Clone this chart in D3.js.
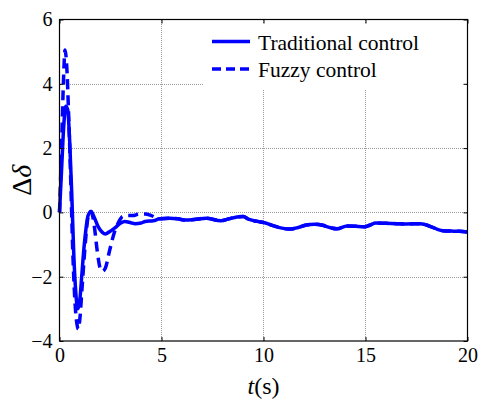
<!DOCTYPE html>
<html>
<head>
<meta charset="utf-8">
<script src="https://cdn.jsdelivr.net/npm/d3@7"></script>
</head>
<body style="margin:0; background:#fff">
<div id="chart"></div>
<script>
var w = 481;
var h = 401;
var margin = { top: 19.5, right: 13.5, bottom: 60, left: 59.5 };
var serif = "'Liberation Serif'";

// data
var tTrad = [0, 0.1, 0.2, 0.3, 0.4, 0.5, 0.6, 0.7, 0.8, 0.9,
    1.0, 1.1, 1.2, 1.3, 1.4, 1.55, 1.7, 1.9, 2.1, 2.25,
    2.45, 2.7, 3.0, 3.2, 3.5, 3.7, 4.0, 4.2, 4.6, 4.9,
    5.4, 5.8, 6.2, 6.6, 7.2, 7.9, 8.3, 8.7, 9.0, 9.3,
    9.7, 10.1, 10.5, 10.9, 11.3, 11.7, 12.1, 12.5, 12.9, 13.3,
    13.6, 14.1, 14.5, 14.9, 15.2, 15.5, 16.0, 16.5, 17.0, 17.7,
    18.2, 18.5, 18.8, 19.2, 19.6, 20];
var vTrad = [0, 1.3, 2.6, 3.3, 3.2, 2.2, 0.6, -1.3, -2.5, -3.0,
    -2.7, -1.9, -1.1, -0.5, -0.1, 0.03, -0.15, -0.45, -0.62, -0.67,
    -0.6, -0.49, -0.33, -0.28, -0.32, -0.35, -0.33, -0.28, -0.26, -0.2,
    -0.18, -0.2, -0.24, -0.22, -0.18, -0.26, -0.2, -0.14, -0.13, -0.22,
    -0.28, -0.33, -0.42, -0.49, -0.52, -0.47, -0.39, -0.37, -0.4, -0.48,
    -0.51, -0.42, -0.43, -0.45, -0.4, -0.33, -0.34, -0.35, -0.36, -0.35,
    -0.44, -0.52, -0.57, -0.58, -0.59, -0.61];

var tFuzzy = [0, 0.1, 0.2, 0.27, 0.35, 0.45, 0.55, 0.65, 0.75, 0.85,
    0.92, 1.0, 1.1, 1.2, 1.3, 1.4, 1.55, 1.7, 1.85, 2.0,
    2.1, 2.25, 2.45, 2.7, 2.9, 3.1, 3.3, 3.6, 3.9, 4.2,
    4.5, 4.7, 4.9, 5.4, 5.8, 6.2, 6.6, 7.2, 7.9, 8.3,
    8.7, 9.0, 9.3, 9.7, 10.1, 10.5, 10.9, 11.3, 11.7, 12.1,
    12.5, 12.9, 13.3, 13.6, 14.1, 14.5, 14.9, 15.2, 15.5, 16.0,
    16.5, 17.0, 17.7, 18.2, 18.5, 18.8, 19.2, 19.6, 20];
var vFuzzy = [0, 2.0, 4.2, 5.05, 4.6, 3.0, 1.0, -1.2, -2.7, -3.45,
    -3.63, -3.3, -2.4, -1.5, -0.7, -0.15, 0.03, -0.4, -1.2, -1.75,
    -1.83, -1.73, -1.2, -0.6, -0.3, -0.12, -0.1, -0.1, -0.05, -0.05,
    -0.1, -0.15, -0.2, -0.18, -0.2, -0.24, -0.22, -0.18, -0.26, -0.2,
    -0.14, -0.13, -0.22, -0.28, -0.33, -0.42, -0.49, -0.52, -0.47, -0.39,
    -0.37, -0.4, -0.48, -0.51, -0.42, -0.43, -0.45, -0.4, -0.33, -0.34,
    -0.35, -0.36, -0.35, -0.44, -0.52, -0.57, -0.58, -0.59, -0.61];

var xTicks = [0, 5, 10, 15, 20];
var yTicks = [-4, -2, 0, 2, 4, 6];
var seriesNames = ["Traditional control", "Fuzzy control"];

var iw = w - margin.left - margin.right;
var ih = h - margin.top - margin.bottom;

var svg = d3.select("#chart")
    .append("svg")
    .attr("width", w)
    .attr("height", h)
    .style("display", "block");

var x = d3.scaleLinear().domain([0, 20]).range([margin.left, margin.left + iw]);
var y = d3.scaleLinear().domain([-4, 6]).range([margin.top + ih, margin.top]);

// grid (matlab dotted)
var grid = svg.append("g").attr("class", "grid")
    .attr("shape-rendering", "crispEdges");
grid.selectAll(".gx")
    .data(xTicks.slice(1, -1))
    .enter().append("line")
    .attr("x1", function(d) { return x(d); })
    .attr("x2", function(d) { return x(d); })
    .attr("y1", y(-4)).attr("y2", y(6))
    .attr("stroke", "#9a9a9a").attr("stroke-width", 1)
    .attr("stroke-dasharray", "1,1");
grid.selectAll(".gy")
    .data(yTicks.slice(1, -1))
    .enter().append("line")
    .attr("y1", function(d) { return Math.round(y(d)) + 0.5; })
    .attr("y2", function(d) { return Math.round(y(d)) + 0.5; })
    .attr("x1", x(0)).attr("x2", x(20))
    .attr("stroke", "#9a9a9a").attr("stroke-width", 1)
    .attr("stroke-dasharray", "1,1");

// lines
var lineGen = d3.line()
    .x(function(d) { return x(d[0]); })
    .y(function(d) { return y(d[1]); })
    .curve(d3.curveMonotoneX);

var fuzzyPts = tFuzzy.map(function(t, i) { return [t, vFuzzy[i]]; });
var tradPts = tTrad.map(function(t, i) { return [t, vTrad[i]]; });

svg.append("path")
    .attr("d", lineGen(fuzzyPts))
    .attr("fill", "none")
    .attr("stroke", "#0000ff")
    .attr("stroke-width", 3.5)
    .attr("stroke-dasharray", "10,6");

svg.append("path")
    .attr("d", lineGen(tradPts))
    .attr("fill", "none")
    .attr("stroke", "#0000ff")
    .attr("stroke-width", 3.5);

// legend box (white, covers grid)
var legend = svg.append("g").attr("class", "legend");
legend.append("rect")
    .attr("x", 203).attr("y", 24)
    .attr("width", 262).attr("height", 66)
    .attr("fill", "#fff");

seriesNames.forEach(function(name, i) {
    var ly = 41.5 + i * 27.5;
    legend.append("line")
        .attr("x1", 212).attr("x2", 250)
        .attr("y1", ly).attr("y2", ly)
        .attr("stroke", "#0000ff")
        .attr("stroke-width", 3.5)
        .attr("stroke-dasharray", i == 1 ? "9,5" : null);
    legend.append("text")
        .attr("x", 258)
        .attr("y", ly + 8)
        .style("font-family", serif)
        .style("font-size", "21.5px")
        .style("fill", "#000")
        .text(name);
});

// axes box
svg.append("rect")
    .attr("x", x(0)).attr("y", y(6))
    .attr("width", iw).attr("height", ih)
    .attr("fill", "none")
    .attr("stroke", "#000")
    .attr("stroke-width", 1.2);

var axisStyle = function(g) {
    g.attr("font-family", null);
    g.select(".domain").remove();
    g.selectAll("text")
        .style("font-family", serif)
        .style("font-size", "20px")
        .style("fill", "#000");
    g.selectAll(".tick line").attr("stroke", "#000");
};

svg.append("g")
    .attr("transform", "translate(0," + y(-4) + ")")
    .call(d3.axisBottom(x).tickValues(xTicks).tickSize(-4).tickPadding(7))
    .call(axisStyle);

svg.append("g")
    .attr("transform", "translate(0," + y(6) + ")")
    .call(d3.axisTop(x).tickValues(xTicks).tickSize(-4).tickFormat(""))
    .call(axisStyle);

svg.append("g")
    .attr("transform", "translate(" + x(0) + ",0)")
    .call(d3.axisLeft(y).tickValues(yTicks).tickSize(-4).tickPadding(7))
    .call(axisStyle);

svg.append("g")
    .attr("transform", "translate(" + x(20) + ",0)")
    .call(d3.axisRight(y).tickValues(yTicks).tickSize(-4).tickFormat(""))
    .call(axisStyle);

// axis titles
var xLabel = svg.append("text")
    .attr("x", x(10))
    .attr("y", 394)
    .attr("text-anchor", "middle")
    .style("font-family", serif)
    .style("font-size", "24px");
xLabel.append("tspan").style("font-style", "italic").text("t");
xLabel.append("tspan").text("(s)");

var yLabel = svg.append("text")
    .attr("transform", "translate(31," + y(1) + ") rotate(-90)")
    .attr("text-anchor", "middle")
    .style("font-family", serif)
    .style("font-size", "28px");
yLabel.append("tspan").text("Δ");
yLabel.append("tspan").style("font-style", "italic").text("δ");
</script>
</body>
</html>
